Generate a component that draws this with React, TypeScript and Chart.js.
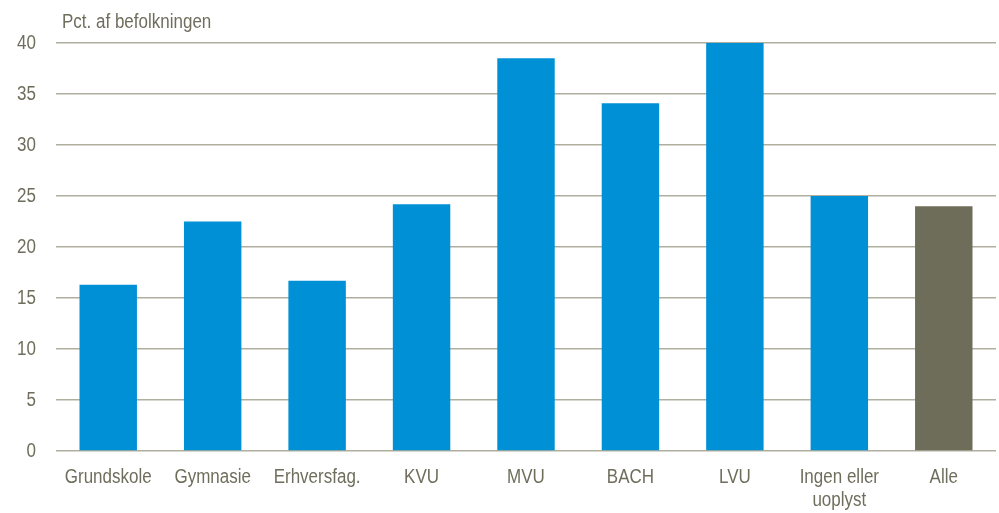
import React, { useEffect, useRef } from "react";
import { Chart, registerables } from "chart.js";

Chart.register(...registerables);

const categories: (string | string[])[] = [
  "Grundskole",
  "Gymnasie",
  "Erhversfag.",
  "KVU",
  "MVU",
  "BACH",
  "LVU",
  ["Ingen eller", "uoplyst"],
  "Alle",
];
const values = [16.3, 22.5, 16.7, 24.2, 38.5, 34.1, 40.0, 25.0, 24.0];
const barColors = [
  "#0090d6", "#0090d6", "#0090d6", "#0090d6", "#0090d6",
  "#0090d6", "#0090d6", "#0090d6", "#6e6d5a",
];
const yTitle = "Pct. af befolkningen";

const FONT = "'Liberation Sans', Arial, sans-serif";
const TEXT = "#6f6e5d";
const SQUEEZE = 0.85;

function drawCondensed(ctx: CanvasRenderingContext2D, text: string, x: number, y: number, align: CanvasTextAlign) {
  ctx.save();
  ctx.translate(x, y);
  ctx.scale(SQUEEZE, 1);
  ctx.textAlign = align;
  ctx.fillText(text, 0, 0);
  ctx.restore();
}

export default function App() {
  const ref = useRef<HTMLCanvasElement | null>(null);
  useEffect(() => {
    if (!ref.current) return;
    const textPlugin = {
      id: "condensedText",
      afterDraw(chart: any) {
        const ctx: CanvasRenderingContext2D = chart.ctx;
        const area = chart.chartArea;
        ctx.save();
        ctx.font = `20px ${FONT}`;
        ctx.fillStyle = TEXT;
        ctx.textBaseline = "middle";
        // y title
        drawCondensed(ctx, yTitle, area.left + 6, area.top - 21, "left");
        // y ticks
        const ys = chart.scales.y;
        ys.ticks.forEach((t: any) => {
          drawCondensed(ctx, String(t.value), area.left - 20, ys.getPixelForValue(t.value), "right");
        });
        // x ticks
        const xs = chart.scales.x;
        const labels = chart.data.labels as (string | string[])[];
        labels.forEach((lab, i) => {
          const lines = Array.isArray(lab) ? lab : [lab];
          const x = xs.getPixelForTick(i);
          lines.forEach((ln, j) => {
            drawCondensed(ctx, ln, x, area.bottom + 26 + j * 23, "center");
          });
        });
        ctx.restore();
      },
    };
    const chart = new Chart(ref.current, {
      type: "bar",
      data: {
        labels: categories,
        datasets: [
          {
            data: values,
            backgroundColor: barColors,
            categoryPercentage: 1,
            barPercentage: 0.55,
          },
        ],
      },
      options: {
        animation: false,
        responsive: false,
        maintainAspectRatio: false,
        layout: { padding: { top: 43, right: 3, left: 0, bottom: 0 } },
        plugins: { legend: { display: false }, tooltip: { enabled: false } },
        scales: {
          x: {
            grid: { display: false, drawTicks: false },
            border: { display: false },
            ticks: { display: false, autoSkip: false },
            afterFit(scale: any) {
              scale.height = 62;
            },
          },
          y: {
            min: 0,
            max: 40,
            grid: { color: "#b0ae9f", lineWidth: 1.5, drawTicks: false },
            border: { display: false },
            ticks: { stepSize: 5, display: false },
            afterFit(scale: any) {
              scale.width = 56;
            },
          },
        },
      },
      plugins: [textPlugin],
    });
    return () => chart.destroy();
  }, []);
  return (
    <div style={{ position: "fixed", left: 0, top: 0, width: 999, height: 513, background: "#fff" }}>
      <canvas ref={ref} width={999} height={513} style={{ display: "block" }} />
    </div>
  );
}
